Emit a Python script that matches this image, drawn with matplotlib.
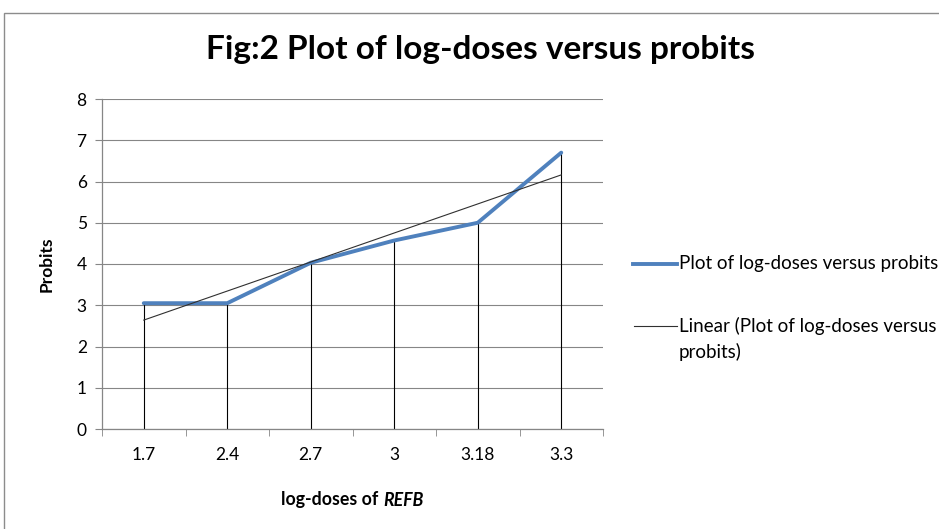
import numpy as np
import matplotlib
matplotlib.use("Agg")
import matplotlib.pyplot as plt
from matplotlib.lines import Line2D
from matplotlib.patches import Rectangle

plt.rcParams['font.family'] = ['Lato', 'DejaVu Sans']

# data
doses = ["1.7", "2.4", "2.7", "3", "3.18", "3.3"]
probits = [3.05, 3.05, 4.03, 4.57, 5.0, 6.7]

x = np.arange(1, len(doses) + 1)
# Excel-style linear trendline over category index
slope, icpt = np.polyfit(x, probits, 1)
trend = slope * x + icpt

W, H = 939, 529
fig = plt.figure(figsize=(W / 100, H / 100), dpi=100)
ax = fig.add_axes([102/W, 1 - 429/H, 501/W, 330/H])

grid_col = "#868686"
blue = "#4F81BD"
trend_col = "#303030"

# drop lines
ax.vlines(x, 0, probits, colors="black", linewidth=0.8, zorder=2)
ax.plot(x, probits, color=blue, linewidth=2.8, solid_capstyle="round", zorder=4)
ax.plot(x, trend, color=trend_col, linewidth=0.8, zorder=5)

ax.set_xlim(0.5, len(doses) + 0.5)
ax.set_ylim(0, 8)
ax.set_yticks(range(0, 9))
ax.set_xticks(x)
ax.set_xticklabels(doses)
ax.set_xticks(np.arange(0.5, len(doses) + 1), minor=True)
ax.tick_params(axis="x", which="major", length=0, pad=13, labelsize=12.5)
ax.tick_params(axis="x", which="minor", length=5, color=grid_col, direction="out")
ax.tick_params(axis="y", length=5, color=grid_col, direction="out", pad=6, labelsize=12.5)

ax.grid(axis="y", color=grid_col, linewidth=0.8)
ax.set_axisbelow(True)
for s in ["top", "right"]:
    ax.spines[s].set_visible(False)
for s in ["left", "bottom"]:
    ax.spines[s].set_color(grid_col)
    ax.spines[s].set_linewidth(0.9)

ax.set_ylabel("Probits", fontsize=12.5, fontweight="bold", labelpad=16)

# x label: "log-doses of " bold + "REFB" bold italic
fig.text(383/W, 1 - 500/H, "log-doses of ", ha="right", va="center",
         fontsize=12.8, fontweight="bold")
fig.text(383/W, 1 - 500/H, "REFB", ha="left", va="center",
         fontsize=12.8, fontweight="bold", fontstyle="italic")

fig.text(481/W, 1 - 50/H, "Fig:2 Plot of log-doses versus probits",
         ha="center", va="center", fontsize=24, fontweight="bold")

# legend drawn by hand to match the Excel layout
fig.add_artist(Line2D([633/W, 677/W], [1 - 264/H, 1 - 264/H], color=blue, linewidth=2.8))
fig.text(679/W, 1 - 264/H, "Plot of log-doses versus probits", ha="left", va="center", fontsize=13.5)
fig.add_artist(Line2D([634/W, 677/W], [1 - 326/H, 1 - 326/H], color=trend_col, linewidth=0.8))
fig.text(679/W, 1 - 326/H, "Linear (Plot of log-doses versus", ha="left", va="center", fontsize=13.5)
fig.text(679/W, 1 - 352/H, "probits)", ha="left", va="center", fontsize=13.5)

# chart border
fig.patches.append(Rectangle((4/W, -0.1), 2, 1 - 13/H + 0.1, transform=fig.transFigure,
                             fill=False, edgecolor="#8c8c8c", linewidth=1.0))

fig.savefig("out.png", dpi=100)
